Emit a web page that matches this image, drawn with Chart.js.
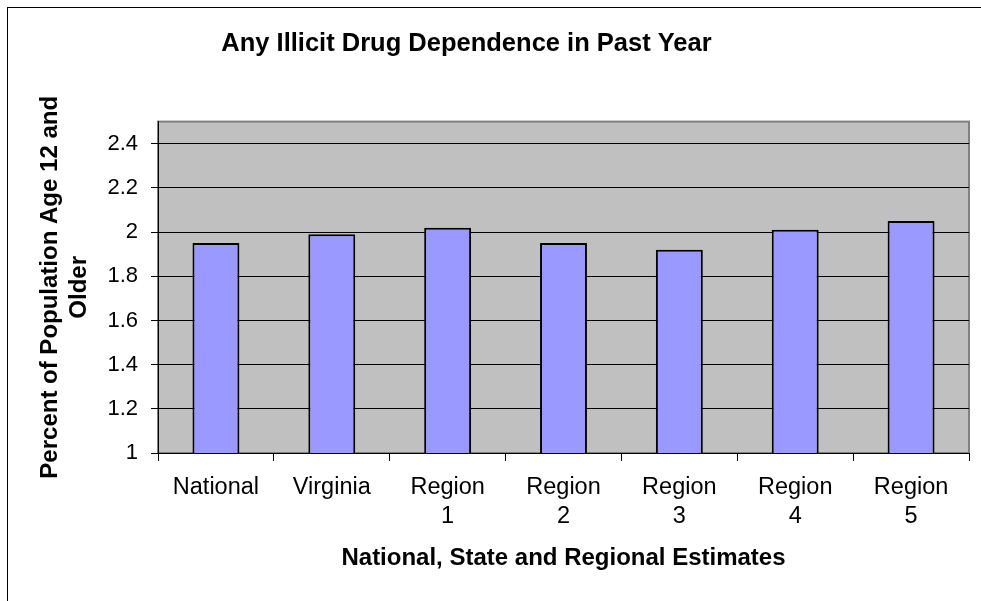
<!DOCTYPE html>
<html>
<head>
<meta charset="utf-8">
<title>Any Illicit Drug Dependence in Past Year</title>
<script src="https://cdn.jsdelivr.net/npm/chart.js@4/dist/chart.umd.min.js"></script>
<style>
  html, body { margin: 0; padding: 0; background: #fff; overflow: hidden; }
  #wrap { position: absolute; left: 0; top: 0; width: 981px; height: 601px; overflow: hidden; }
  /* outer chart frame, only left/top edges fall inside the page */
  #frame { position: absolute; left: 7px; top: 7px; width: 1100px; height: 700px;
           border: 1px solid #000; pointer-events: none; }
</style>
</head>
<body>
<div id="wrap">
  <canvas id="drugChart" width="981" height="601"></canvas>
  <div id="frame"></div>
</div>
<script>
// Estimates by area
const areas = ['National', 'Virginia', ['Region', '1'], ['Region', '2'], ['Region', '3'], ['Region', '4'], ['Region', '5']];
const dependencePct = [1.95, 1.99, 2.02, 1.95, 1.92, 2.01, 2.05];
const yTicks = [1, 1.2, 1.4, 1.6, 1.8, 2, 2.2, 2.4];

const FONT = 'Arial, "Liberation Sans", sans-serif';

// grey plot background with a thin grey frame
const plotBackground = {
  id: 'plotBackground',
  beforeDraw(chart) {
    const { ctx, chartArea: a } = chart;
    ctx.save();
    ctx.fillStyle = '#c0c0c0';
    ctx.fillRect(a.left, a.top, a.right - a.left, a.bottom - a.top);
    ctx.strokeStyle = '#808080';
    ctx.lineWidth = 2;
    ctx.strokeRect(a.left, a.top, a.right - a.left, a.bottom - a.top);
    ctx.restore();
  }
};

// the title sits a little left of the page centre
const titleNudge = {
  id: 'titleNudge',
  afterLayout(chart) {
    const t = chart.titleBlock;
    if (t) { t.left -= 18; t.right -= 18; }
  }
};

const ctx = document.getElementById('drugChart').getContext('2d');
const chart = new Chart(ctx, {
  type: 'bar',
  data: {
    labels: areas,
    datasets: [{
      label: 'Any Illicit Drug Dependence',
      data: dependencePct,
      backgroundColor: '#9999ff',
      borderColor: '#000000',
      borderWidth: 2,
      borderSkipped: false,
      categoryPercentage: 1,
      barPercentage: 0.405
    }]
  },
  options: {
    responsive: false,
    animation: false,
    layout: { padding: { left: 0, right: 12, top: 0, bottom: 0 } },
    plugins: {
      legend: { display: false },
      tooltip: { enabled: false },
      title: {
        display: true,
        text: 'Any Illicit Drug Dependence in Past Year',
        color: '#000',
        font: { family: FONT, size: 25.5, weight: 'bold', lineHeight: 1.2 },
        padding: { top: 29, bottom: 62 }
      }
    },
    scales: {
      x: {
        grid: { drawOnChartArea: false, color: '#000', tickLength: 8, offset: true },
        border: { color: '#000', width: 1 },
        ticks: {
          color: '#000',
          font: { family: FONT, size: 23.5, lineHeight: 1.23 },
          padding: 12,
          maxRotation: 0,
          autoSkip: false
        },
        title: {
          display: true,
          text: 'National, State and Regional Estimates',
          color: '#000',
          font: { family: FONT, size: 24, weight: 'bold', lineHeight: 1.2 },
          padding: { top: 0, bottom: 28 }
        },
        afterFit(scale) { scale.height = 148; }
      },
      y: {
        min: 1,
        max: 2.5,
        grid: { color: '#000', lineWidth: 1, tickLength: 7 },
        border: { color: '#000', width: 1 },
        afterBuildTicks(scale) {
          scale.ticks = yTicks.map(v => ({ value: v }));
        },
        ticks: {
          color: '#000',
          font: { family: FONT, size: 22 },
          padding: 13,
          callback: v => String(+Number(v).toFixed(1))
        },
        title: {
          display: true,
          text: ['Percent of Population Age 12 and', 'Older'],
          color: '#000',
          font: { family: FONT, size: 24, weight: 'bold', lineHeight: 1.2 },
          padding: { top: 36, bottom: 0 }
        },
        afterFit(scale) { scale.width = 158; }
      }
    }
  },
  plugins: [plotBackground, titleNudge]
});
</script>
</body>
</html>
